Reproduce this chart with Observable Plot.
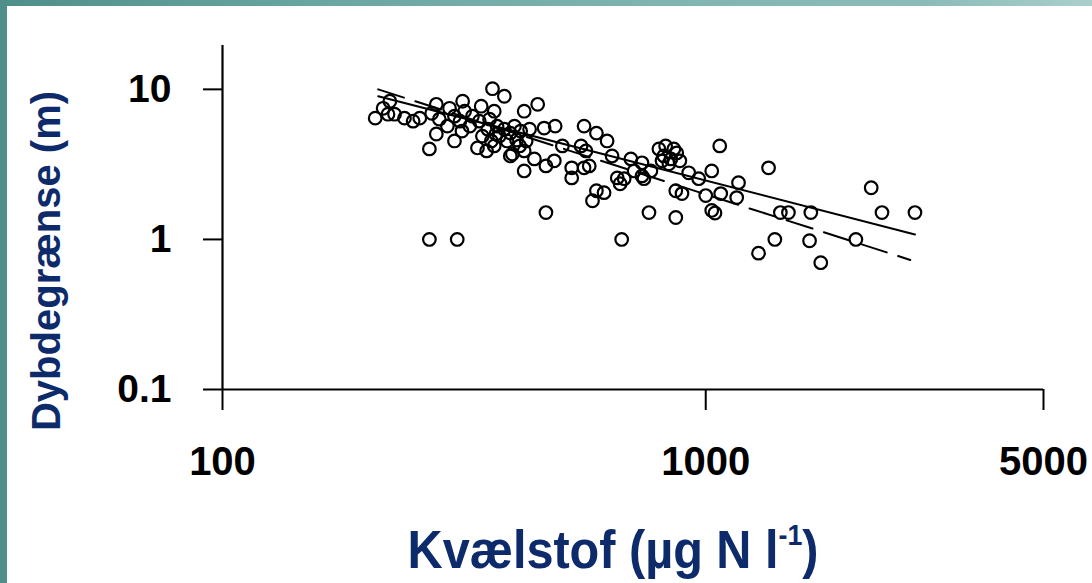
<!DOCTYPE html>
<html>
<head>
<meta charset="utf-8">
<script src="https://cdn.jsdelivr.net/npm/d3@7"></script>
<script src="https://cdn.jsdelivr.net/npm/@observablehq/plot@0.6"></script>
<style>
  html, body { margin: 0; padding: 0; }
  body {
    width: 1092px; height: 583px; overflow: hidden; position: relative;
    background: linear-gradient(90deg, #4f8f8a 0%, #6aa6a2 30%, #7fb4b0 60%, #8cbcb8 85%, #a9cfcb 100%);
  }
  #panel { position: absolute; left: 7px; top: 6px; width: 1085px; height: 577px; background: #fff; }
  #panel svg { display: block; }
  .title {
    position: absolute; color: #0d2b6b; font-family: "Liberation Sans", Arial, sans-serif;
    font-weight: bold; white-space: nowrap; line-height: 1;
  }
  #ytitle { left: 46px; top: 261px; font-size: 40px; transform: translate(-50%, -50%) rotate(-90deg); }
  #xtitle { left: 613px; top: 548px; font-size: 54px; transform: translate(-50%, -50%) scaleX(0.9); }
  #xtitle sup { font-size: 0.55em; vertical-align: 0.75em; }
</style>
</head>
<body>
<div id="panel"></div>
<div class="title" id="ytitle">Dybdegrænse (m)</div>
<div class="title" id="xtitle">Kvælstof (µg N l<sup>-1</sup>)</div>
<script>
// Total nitrogen (µg N l-1) and depth limit (m) per station
const nitrogen = [
  207, 222, 220, 215, 248, 256, 277, 295, 314, 343, 362, 383, 365, 277, 268, 302, 337, 352, 394,
  281, 292, 302, 310, 317, 325, 329, 340, 354, 357, 370, 374, 383, 388, 394, 402, 406, 414, 360, 368,
  268, 306, 449, 421, 463, 488, 560, 594, 625, 505, 552, 398, 421, 442, 640, 700, 738, 467, 421,
  528, 560, 528, 656, 678, 745, 594, 616, 467, 583, 670, 763, 665, 800, 826, 859, 819, 847, 871,
  812, 839, 884, 1069, 1349, 1029, 922, 967, 1169, 867, 893, 1000, 1074, 1159, 867, 1029, 1427,
  1483, 1045, 2200, 2316, 2710, 1650, 1640, 2045, 1730, 1286, 1390, 770, 738, 345, 365, 412, 425,
  432, 313, 271, 238, 227, 486, 574, 565, 711
];
const depth = [
  6.43, 8.33, 6.83, 7.48, 6.14, 6.43, 7.95, 7.48, 8.33, 7.72, 10.1, 9.0, 7.15, 5.04, 4.01, 4.53, 4.07, 3.89, 3.60,
  6.33, 5.69, 6.63, 6.14, 7.15, 5.69, 6.63, 6.14, 5.43, 6.33, 5.69, 4.88, 5.43, 4.53, 5.11, 5.69, 4.60, 5.27, 4.53, 5.04,
  1.0, 1.0, 7.95, 7.15, 5.52, 5.69, 5.69, 5.11, 4.53, 4.20, 4.20, 3.71, 3.89, 3.44, 3.60, 3.44, 3.24, 3.09, 2.86,
  3.00, 3.00, 2.57, 2.57, 2.54, 2.54, 2.11, 2.05, 1.51, 1.81, 1.0, 1.51, 2.35, 4.01, 4.20, 4.01, 3.60, 3.44, 3.77,
  3.34, 3.19, 3.34, 4.20, 3.00, 2.86, 2.78, 2.54, 2.39, 2.11, 2.02, 1.96, 2.02, 1.90, 1.40, 1.56, 1.51,
  1.51, 1.50, 2.21, 1.51, 1.51, 1.51, 0.98, 1.0, 0.70, 0.81, 1.0, 2.86, 2.65, 4.88, 4.20, 4.20, 4.53,
  5.43, 5.27, 6.93, 6.43, 6.83, 3.34, 3.09, 3.89, 2.86
];
// Regression lines (end points)
const solidFitX = [210, 2710];
const solidFitY = [9.0, 1.08];
const dashedFitX = [210, 2650];
const dashedFitY = [10.0, 0.73];
// Axis ticks
const xTicks = [100, 1000, 5000];
const yTicks = [0.1, 1, 10];

const points = nitrogen.map((n, i) => ({n, d: depth[i]}));
const solid = solidFitX.map((n, i) => ({n, d: solidFitY[i]}));
const dashed = dashedFitX.map((n, i) => ({n, d: dashedFitY[i]}));

const chart = Plot.plot({
  width: 1085,
  height: 577,
  marginLeft: 215,
  marginRight: 49,
  marginTop: 39,
  marginBottom: 194,
  x: {type: "log", domain: [100, 5000]},
  y: {type: "log", domain: [0.1, 19.6]},
  style: {background: "white", fontFamily: "'Liberation Sans', Arial, sans-serif", color: "black"},
  marks: [
    Plot.ruleX([xTicks[0]], {stroke: "black", strokeWidth: 2.2}),
    Plot.ruleY([yTicks[0]], {stroke: "black", strokeWidth: 2.2}),
    Plot.axisX({ticks: xTicks, tickSize: 21, tickPadding: 36, tickFormat: d => String(d),
      fontSize: 40, fontWeight: "bold", label: null, strokeWidth: 2}),
    Plot.axisY({ticks: yTicks, tickSize: 19, tickPadding: 32, tickFormat: d => String(d),
      fontSize: 39, fontWeight: "bold", label: null, strokeWidth: 2}),
    Plot.line(solid, {x: "n", y: "d", stroke: "black", strokeWidth: 2}),
    Plot.line(dashed, {x: "n", y: "d", stroke: "black", strokeWidth: 2, strokeDasharray: "27,12"}),
    Plot.dot(points, {x: "n", y: "d", r: 6.3, stroke: "black", strokeWidth: 2.2, fill: "none"})
  ]
});
document.getElementById("panel").appendChild(chart);
</script>
</body>
</html>
